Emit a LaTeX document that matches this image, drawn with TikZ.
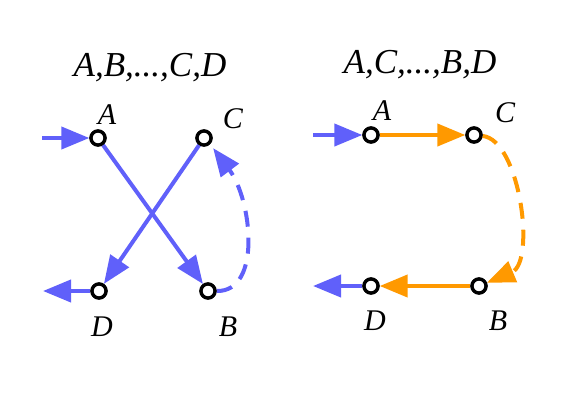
\documentclass[tikz,border=0pt]{standalone}
\usepackage{fontspec}
\setmainfont{Liberation Serif}
\usetikzlibrary{arrows.meta}
\definecolor{cblue}{RGB}{96,96,250}
\definecolor{corange}{RGB}{255,153,0}
\begin{document}
\begin{tikzpicture}[x=1pt,y=-1pt,
  pt/.style={circle,draw=black,line width=3.3pt,fill=white,minimum size=14pt,inner sep=0pt},
  conn/.style={line width=4pt},
  bl/.style={conn,draw=cblue,-{Triangle[length=28pt,width=22pt,fill=cblue]}},
  og/.style={conn,draw=corange,-{Triangle[length=28pt,width=22pt,fill=corange]}},
  dsh/.style={dash pattern=on 16pt off 11pt},
  lab/.style={font=\itshape\fontsize{30}{33}\selectfont,inner sep=0pt},
  ttl/.style={font=\itshape\fontsize{35}{38}\selectfont,inner sep=0pt}]
\useasboundingbox (0,0) rectangle (586,416);
% left
\node[ttl] (t1) at (150,68) {A,B,...,C,D};
\coordinate (lin) at (42,138);
\coordinate (lout) at (43,291);
\node[pt] (A1) at (98,138) {};
\node[pt] (C1) at (204,138) {};
\node[pt] (D1) at (99,291) {};
\node[pt] (B1) at (208,291) {};
\node[lab] (la1) at (107,115) {A};
\node[lab] (lc1) at (233,119) {C};
\node[lab] (ld1) at (102,327) {D};
\node[lab] (lb1) at (228,327) {B};
\draw[bl] (lin) -- (A1);
\draw[bl] (D1) -- (lout);
\draw[bl] (A1) -- (B1);
\draw[bl] (C1) -- (D1);
\draw[bl,dsh,shorten >=5pt] (B1.east) .. controls (262,292) and (252,200) .. (C1.south east);
% right
\node[ttl] (t2) at (420,65) {A,C,...,B,D};
\coordinate (rin) at (313,135);
\coordinate (rout) at (313,286);
\node[pt] (A2) at (371,135) {};
\node[pt] (C2) at (474,135) {};
\node[pt] (D2) at (371,286) {};
\node[pt] (B2) at (479,286) {};
\node[lab] (la2) at (382,111) {A};
\node[lab] (lc2) at (505,113) {C};
\node[lab] (ld2) at (375,321) {D};
\node[lab] (lb2) at (498,321) {B};
\draw[bl] (rin) -- (A2);
\draw[bl] (D2) -- (rout);
\draw[og] (A2) -- (C2);
\draw[og] (B2) -- (D2);
\draw[og,dsh] (C2) .. controls (520,140) and (536,262) .. (B2);
% redraw node circles on top
\foreach \p in {(98,138),(204,138),(99,291),(208,291),(371,135),(474,135),(371,286),(479,286)}
  \node[pt] at \p {};
\end{tikzpicture}
\end{document}
